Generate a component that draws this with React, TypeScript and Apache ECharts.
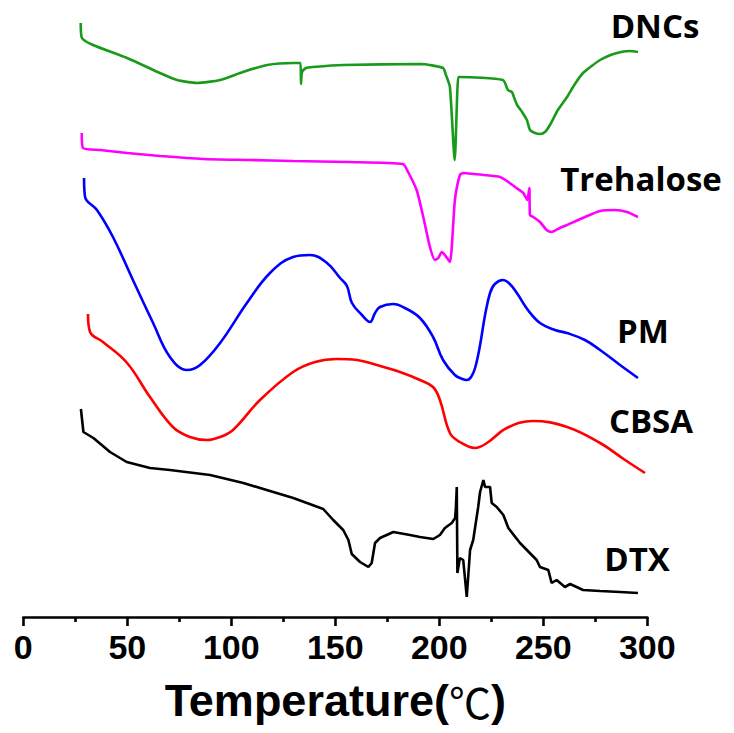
import React, { useEffect, useRef } from "react";
import * as echarts from "echarts";

// Temperature (°C) and offset heat-flow (a.u.)
const dncsT = [27.6, 28.2, 33.5, 49.9, 65.7, 73.9, 83.5, 94.6, 105.6, 117.2, 129.7, 133.3, 133.5, 134.0, 135.9, 139.3, 153.7, 190.9, 201.8, 203.2, 205.1, 207.4, 209.1, 209.9, 230.6, 233.0, 234.9, 236.4, 237.4, 239.8, 242.1, 243.6, 246.0, 248.4, 250.8, 253.2, 257.0, 261.4, 265.2, 269.1, 277.3, 285.4, 291.6, 295.5];
const dncsV = [594, 579, 572, 559, 544, 537, 534, 537, 545, 552, 554, 554, 533, 545, 549, 550, 552, 553, 549, 542, 530, 457, 540, 540, 537, 527, 525, 517, 512, 505, 497, 487, 484, 483, 485, 492, 507, 520, 533, 544, 557, 564, 566, 565];

const trehaloseT = [28.1, 28.7, 36.9, 49.9, 65.7, 86.4, 109.0, 129.7, 156.5, 182.5, 185.0, 189.1, 192.3, 195.5, 197.9, 199.5, 201.2, 202.7, 205.1, 207.5, 209.9, 211.5, 221.2, 229.2, 233.2, 236.4, 240.4, 242.3, 243.3, 243.6, 245.2, 248.4, 251.6, 254.0, 258.0, 261.4, 270.0, 277.3, 284.4, 290.3, 295.5];
const trehaloseV = [484, 469, 467, 464, 461, 458, 457, 456, 455, 453, 445, 427, 400, 370, 357, 359, 365, 362, 355, 417, 442, 444, 442, 440, 435, 430, 424, 417, 429, 402, 400, 395, 387, 385, 389, 392, 400, 406, 407, 405, 400];

const pmT = [29.2, 29.7, 35.4, 43.1, 52.7, 62.4, 70.5, 78.7, 85.0, 94.6, 107.5, 118.6, 129.7, 137.8, 146.0, 152.3, 155.6, 158.0, 162.8, 166.7, 169.1, 171.5, 177.8, 183.5, 190.7, 197.0, 201.8, 207.5, 211.1, 213.3, 215.3, 217.2, 219.6, 222.0, 224.4, 226.7, 230.6, 233.9, 237.3, 242.6, 248.4, 255.6, 261.4, 270.0, 277.3, 286.9, 295.5];
const pmV = [439, 420, 407, 380, 337, 294, 260, 247, 252, 274, 314, 344, 360, 362, 354, 339, 331, 314, 302, 295, 304, 310, 313, 309, 299, 280, 257, 242, 238, 237, 240, 249, 272, 302, 324, 333, 337, 333, 324, 307, 294, 287, 284, 277, 267, 252, 239];

const cbsaT = [31.1, 32.1, 38.3, 49.9, 60.9, 71.9, 80.1, 88.3, 94.6, 100.8, 113.8, 129.7, 140.3, 150.8, 160.4, 170.0, 181.1, 190.7, 197.0, 200.3, 205.1, 209.9, 217.1, 222.9, 232.5, 245.0, 261.4, 277.3, 289.3, 298.9];
const cbsaV = [303, 285, 275, 254, 220, 190, 180, 177, 180, 187, 217, 245, 255, 258, 257, 252, 245, 237, 230, 217, 184, 175, 169, 174, 189, 196, 190, 174, 157, 144];

const dtxT = [27.7, 28.9, 33.7, 41.7, 49.7, 60.9, 70.5, 89.8, 105.8, 118.6, 129.8, 144.2, 149.0, 153.8, 156.3, 157.9, 161.9, 165.9, 167.5, 169.1, 171.5, 177.9, 185.9, 190.7, 197.1, 200.3, 202.7, 206.0, 207.6, 208.0, 208.4, 208.7, 209.9, 211.5, 213.2, 214.8, 216.3, 218.7, 219.6, 221.2, 222.0, 224.4, 225.2, 227.6, 230.8, 233.2, 238.8, 246.8, 248.4, 252.4, 254.0, 256.4, 260.4, 262.9, 269.1, 277.3, 286.9, 295.5];
const dtxV = [208, 185, 179, 165, 155, 149, 147, 142, 134, 126, 119, 108, 97, 87, 77, 63, 55, 50, 54, 74, 79, 85, 82, 80, 78, 82, 89, 94, 99, 110, 130, 44, 59, 57, 20, 67, 77, 110, 125, 137, 130, 130, 114, 110, 102, 89, 74, 57, 50, 47, 34, 37, 30, 33, 27, 26, 25, 24];

const xTicks = [0, 50, 100, 150, 200, 250, 300];
const curveNames = ["DNCs", "Trehalose", "PM", "CBSA", "DTX"];

const zip = (t: number[], v: number[]) => t.map((x, i) => [x, v[i]]);

export default function App() {
  const ref = useRef<HTMLDivElement>(null);
  useEffect(() => {
    if (!ref.current) return;
    const chart = echarts.init(ref.current, undefined, { renderer: "svg" });
    const mk = (name: string, t: number[], v: number[], color: string, smooth: number | boolean) => ({
      name,
      type: "line",
      data: zip(t, v),
      showSymbol: false,
      smooth,
      lineStyle: { color, width: 2.6 },
      itemStyle: { color },
    });
    const labelFont = "'Open Sans', 'Liberation Sans', sans-serif";
    const labelPos: Record<string, [number, number]> = {
      DNCs: [655, 25],
      Trehalose: [641, 178],
      PM: [643, 330],
      CBSA: [651, 420],
      DTX: [637, 558],
    };
    chart.setOption({
      animation: false,
      backgroundColor: "#ffffff",
      grid: { left: 23.3, right: 86.7, top: 0, bottom: 116, containLabel: false },
      xAxis: {
        type: "value",
        min: 0,
        max: 300,
        interval: 50,
        name: "Temperature({c|℃})",
        nameLocation: "middle",
        nameGap: 61,
        nameTextStyle: {
          fontFamily: "'Liberation Sans', sans-serif",
          fontWeight: "bold",
          fontSize: 45,
          color: "#000",
          rich: {
            c: {
              fontFamily: "'Noto Sans CJK SC', sans-serif",
              fontWeight: "normal",
              fontSize: 42,
              color: "#000",
            },
          },
        },
        axisLine: { show: true, onZero: false, lineStyle: { color: "#000", width: 2.6 } },
        axisTick: { show: true, inside: false, length: 9, lineStyle: { color: "#000", width: 2.6 } },
        minorTick: { show: true, splitNumber: 2, length: 5, lineStyle: { color: "#000", width: 2.6 } },
        axisLabel: {
          margin: 13,
          fontFamily: "'Liberation Sans', sans-serif",
          fontWeight: "bold",
          fontSize: 34,
          color: "#000",
          formatter: (v: number) => (xTicks.includes(v) ? String(v) : ""),
        },
        splitLine: { show: false },
      },
      yAxis: { type: "value", min: 0, max: 617, show: false },
      series: [
        mk("DNCs", dncsT, dncsV, "#1a9a1a", 0.2),
        mk("Trehalose", trehaloseT, trehaloseV, "#ff00ff", 0.2),
        mk("PM", pmT, pmV, "#0000ff", 0.4),
        mk("CBSA", cbsaT, cbsaV, "#ff0000", 0.4),
        mk("DTX", dtxT, dtxV, "#000000", false),
      ],
      graphic: curveNames.map((n) => ({
        type: "text",
        x: labelPos[n][0],
        y: labelPos[n][1],
        style: {
          text: n,
          fontFamily: labelFont,
          fontWeight: "bold",
          fontSize: 33,
          fill: "#000",
          align: "center",
          verticalAlign: "middle",
        },
      })),
    });
    return () => chart.dispose();
  }, []);
  return (
    <div
      ref={ref}
      style={{ position: "absolute", left: 0, top: 0, width: 734, height: 733, background: "#fff" }}
    />
  );
}
